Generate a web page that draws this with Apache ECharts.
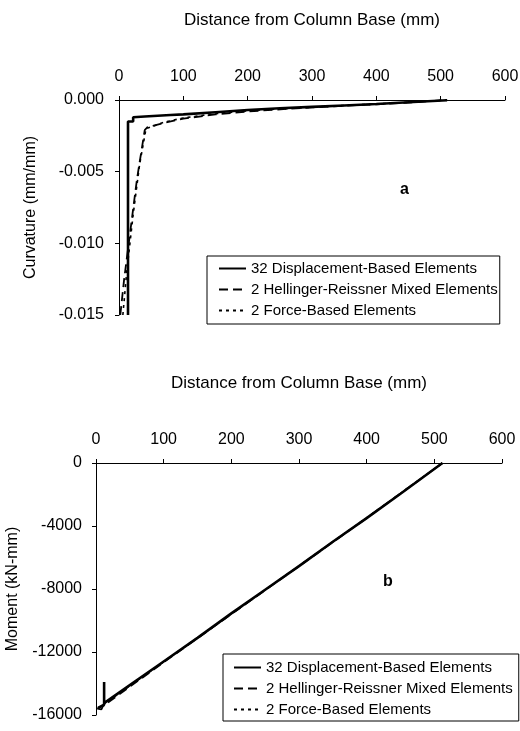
<!DOCTYPE html>
<html>
<head>
<meta charset="utf-8">
<script src="https://cdn.jsdelivr.net/npm/echarts@6/dist/echarts.min.js"></script>
<style>
html,body{margin:0;padding:0;background:#fff;}
#chart{width:520px;height:731px;}
</style>
</head>
<body>
<div id="chart"></div>
<script>
// ---- data ----
const seriesNames = ['32 Displacement-Based Elements', '2 Hellinger-Reissner Mixed Elements', '2 Force-Based Elements'];
const xTicks = [0, 100, 200, 300, 400, 500, 600];
const curvTicks = [0, -0.005, -0.010, -0.015];
const momentTicks = [0, -4000, -8000, -12000, -16000];

// panel a: curvature (mm/mm) vs distance (mm)
const curvDisp = [[14,-0.0150],[14,-0.0015],[22,-0.0015],[22,-0.0012],[40,-0.00115],[60,-0.0011],[80,-0.00105],[100,-0.0010],[150,-0.00085],[200,-0.0007],[250,-0.00058],[300,-0.00048],[350,-0.00038],[400,-0.00028],[450,-0.00016],[510,-0.00002]];
const curvHR = [[2,-0.0150],[8,-0.0125],[18,-0.0090],[28,-0.0055],[40,-0.0021],[44,-0.0019],[70,-0.0016],[100,-0.0013],[150,-0.0010],[200,-0.0008],[260,-0.00062],[300,-0.00052],[350,-0.0004],[400,-0.0003],[450,-0.00018],[510,0]];
const curvForce = [[6,-0.0150],[12,-0.0120],[22,-0.0080],[32,-0.0045],[42,-0.0020],[70,-0.00155],[100,-0.00125],[150,-0.00095],[200,-0.00075],[260,-0.0006],[300,-0.0005],[350,-0.00038],[400,-0.00028],[450,-0.00016],[510,0]];

// panel b: moment (kN-mm) vs distance (mm)
const momDisp = [[3,-15550],[12,-15350],[12,-13900],[12,-15250],[50,-14100],[100,-12600],[150,-11100],[200,-9550],[250,-8050],[300,-6550],[350,-5000],[400,-3500],[450,-1950],[512,0]];
const momHR = [[2,-15600],[8,-15650],[10,-15450],[100,-12650],[200,-9600],[300,-6550],[400,-3500],[512,0]];
const momForce = [[2,-15600],[100,-12620],[200,-9580],[300,-6530],[400,-3480],[512,0]];

// ---- chart ----
const FONT = 'Liberation Sans, Arial, sans-serif';
const chart = echarts.init(document.getElementById('chart'), null, {renderer: 'canvas'});

const lineStyles = [
  {color: '#000', width: 2.6, type: 'solid'},
  {color: '#000', width: 1.8, type: [9, 5]},
  {color: '#000', width: 1.6, type: [3, 4]}
];

function xAxisCfg(gridIndex) {
  return {
    gridIndex, type: 'value', position: 'top', min: xTicks[0], max: xTicks[xTicks.length - 1], interval: 100,
    name: 'Distance from Column Base (mm)', nameLocation: 'middle', nameGap: 71,
    nameMoveOverlap: false,
    nameTextStyle: {fontFamily: FONT, fontSize: 17, color: '#000'},
    axisLine: {show: true, onZero: false, lineStyle: {color: '#000', width: 1}},
    axisTick: {show: true, length: 4, lineStyle: {color: '#000'}},
    axisLabel: {fontFamily: FONT, fontSize: 16, color: '#000', margin: 15},
    splitLine: {show: false}
  };
}

const mkSeries = (name, data, idx, xi) => ({
  name, type: 'line', data, xAxisIndex: xi, yAxisIndex: xi,
  symbol: 'none', showSymbol: false, smooth: false, animation: false,
  lineStyle: lineStyles[idx], itemStyle: {color: '#000'}
});

function legendCfg(left, top, padding) {
  return {
    data: seriesNames.map(n => ({name: n})), orient: 'vertical', left, top,
    itemWidth: 27, itemHeight: 14, itemGap: 4, padding,
    borderColor: '#000', borderWidth: 1, backgroundColor: '#fff',
    selectedMode: false,
    itemStyle: {opacity: 0},
    textStyle: {fontFamily: FONT, fontSize: 15, color: '#000', lineHeight: 17}
  };
}

const option = {
  backgroundColor: '#fff',
  animation: false,
  textStyle: {fontFamily: FONT},
  grid: [
    {left: 119, right: 15, top: 100, height: 215, outerBoundsMode: 'none', containLabel: false},
    {left: 96, right: 18, top: 463, height: 252, outerBoundsMode: 'none', containLabel: false}
  ],
  xAxis: [xAxisCfg(0), xAxisCfg(1)],
  yAxis: [
    {
      gridIndex: 0, type: 'value', min: curvTicks[3], max: curvTicks[0], interval: 0.005,
      name: 'Curvature (mm/mm)', nameLocation: 'middle', nameGap: 80,
      nameMoveOverlap: false,
      nameTextStyle: {fontFamily: FONT, fontSize: 16, color: '#000'},
      axisLine: {show: true, onZero: false, lineStyle: {color: '#000', width: 1}},
      axisTick: {show: true, length: 4, lineStyle: {color: '#000'}},
      axisLabel: {fontFamily: FONT, fontSize: 16, color: '#000', margin: 15,
        formatter: v => v.toFixed(3)},
      splitLine: {show: false}
    },
    {
      gridIndex: 1, type: 'value', min: momentTicks[4], max: momentTicks[0], interval: 4000,
      name: 'Moment (kN-mm)', nameLocation: 'middle', nameGap: 75,
      nameMoveOverlap: false,
      nameTextStyle: {fontFamily: FONT, fontSize: 16, color: '#000'},
      axisLine: {show: true, onZero: false, lineStyle: {color: '#000', width: 1}},
      axisTick: {show: true, length: 4, lineStyle: {color: '#000'}},
      axisLabel: {fontFamily: FONT, fontSize: 16, color: '#000', margin: 14,
        formatter: v => String(v)},
      splitLine: {show: false}
    }
  ],
  legend: [
    legendCfg(207, 256, [4, 2, 5, 11]),
    legendCfg(223, 654, [5, 6, 3, 10])
  ],
  graphic: [
    {type: 'text', left: 400, top: 182, style: {text: 'a', font: 'bold 16px ' + FONT, fill: '#000'}},
    {type: 'text', left: 383, top: 574, style: {text: 'b', font: 'bold 16px ' + FONT, fill: '#000'}}
  ],
  series: [
    mkSeries(seriesNames[0], curvDisp, 0, 0),
    mkSeries(seriesNames[1], curvHR, 1, 0),
    mkSeries(seriesNames[2], curvForce, 2, 0),
    mkSeries(seriesNames[0], momDisp, 0, 1),
    mkSeries(seriesNames[1], momHR, 1, 1),
    mkSeries(seriesNames[2], momForce, 2, 1)
  ]
};
chart.setOption(option);
</script>
</body>
</html>
